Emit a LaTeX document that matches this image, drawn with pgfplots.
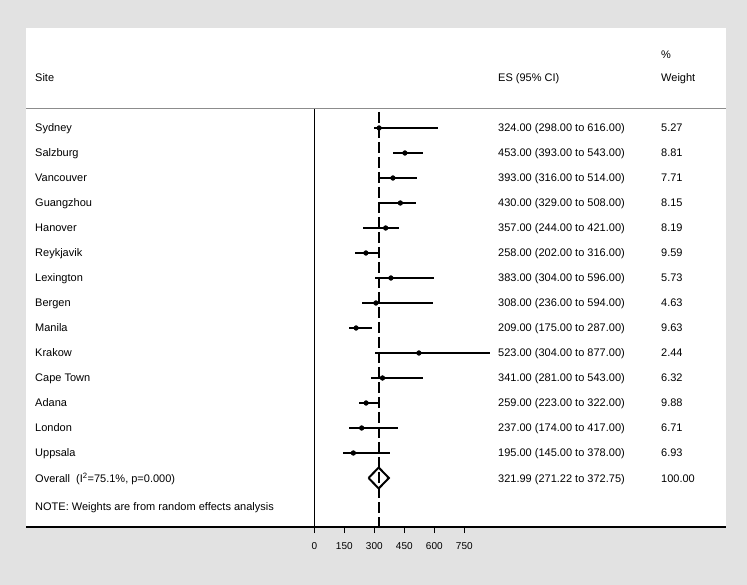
\documentclass[border=0pt]{standalone}
\usepackage{fontspec}
\setmainfont{Liberation Sans}
\usepackage{pgfplots}
\pgfplotsset{compat=1.18}
\usepackage{pgfplotstable}
\definecolor{bg}{RGB}{226,226,226}
\definecolor{sep}{RGB}{140,140,140}

% row, effect size, lower CI, upper CI
\pgfplotstableread{
row es lo hi
1 324 298 616
2 453 393 543
3 393 316 514
4 430 329 508
5 357 244 421
6 258 202 316
7 383 304 596
8 308 236 594
9 209 175 287
10 523 304 877
11 341 281 543
12 259 223 322
13 237 174 417
14 195 145 378
}\studies

\tikzset{tx/.style={anchor=base west, inner sep=0pt, yshift=-4bp, font=\fontsize{11bp}{13bp}\selectfont}}

\begin{document}
\begin{tikzpicture}
\fill[bg] (-26bp,-58bp) rectangle (721bp,527bp);
\begin{axis}[
  at={(0,0)}, anchor=south west,
  scale only axis, width=700bp, height=499bp,
  xmin=-1441.5, xmax=2058.5, ymin=-16.96, ymax=3,
  axis background/.style={fill=white},
  axis x line*=bottom, axis y line=none,
  axis line style={-, line width=1.2bp, black},
  xtick={0,150,300,450,600,750}, tick align=outside, major tick length=6bp,
  xtick style={black, line width=1bp},
  xticklabel style={font=\fontsize{10bp}{12bp}\selectfont, yshift=-6bp},
  /pgf/number format/assume math mode=true,
  clip=false,
]
% header separator
\addplot[sep, line width=1bp] coordinates {(-1441.5,-0.24) (2058.5,-0.24)};
% zero line
\addplot[black, line width=1.2bp] coordinates {(0,-0.24) (0,-16.96)};
% overall dashed line
\addplot[black, line width=2.3bp, dash pattern=on 11bp off 4bp] coordinates {(321.99,-0.36) (321.99,-16.96)};
% study CIs and points
\addplot[black, only marks, mark=*, mark size=2.4bp,
  error bars/.cd, x dir=both, x explicit, error mark=none,
  error bar style={line width=2bp, black}]
  table[x=es, y expr=-\thisrow{row},
        x error plus expr=\thisrow{hi}-\thisrow{es},
        x error minus expr=\thisrow{es}-\thisrow{lo}] {\studies};
% overall diamond
\addplot[black, line width=2bp, line join=miter, mark=none] coordinates {
  (271.22,-15) (321.99,-14.58) (372.75,-15) (321.99,-15.42) (271.22,-15)};

% header text
\node[tx] at (axis cs:-1396.5,1) {Site};
\node[tx] at (axis cs:918.5,1) {ES (95\% CI)};
\node[tx] at (axis cs:1733.5,1) {Weight};
\node[tx] at (axis cs:1733.5,1.92) {\%};

% site names
\node[tx] at (axis cs:-1396.5,-1) {Sydney};
\node[tx] at (axis cs:-1396.5,-2) {Salzburg};
\node[tx] at (axis cs:-1396.5,-3) {Vancouver};
\node[tx] at (axis cs:-1396.5,-4) {Guangzhou};
\node[tx] at (axis cs:-1396.5,-5) {Hanover};
\node[tx] at (axis cs:-1396.5,-6) {Reykjavik};
\node[tx] at (axis cs:-1396.5,-7) {Lexington};
\node[tx] at (axis cs:-1396.5,-8) {Bergen};
\node[tx] at (axis cs:-1396.5,-9) {Manila};
\node[tx] at (axis cs:-1396.5,-10) {Krakow};
\node[tx] at (axis cs:-1396.5,-11) {Cape Town};
\node[tx] at (axis cs:-1396.5,-12) {Adana};
\node[tx] at (axis cs:-1396.5,-13) {London};
\node[tx] at (axis cs:-1396.5,-14) {Uppsala};
\node[tx] at (axis cs:-1396.5,-15) {Overall\ \ (I\textsuperscript{2}=75.1\%, p=0.000)};
\node[tx] at (axis cs:-1396.5,-16.12) {NOTE: Weights are from random effects analysis};

% ES (95% CI)
\node[tx] at (axis cs:918.5,-1) {324.00 (298.00 to 616.00)};
\node[tx] at (axis cs:918.5,-2) {453.00 (393.00 to 543.00)};
\node[tx] at (axis cs:918.5,-3) {393.00 (316.00 to 514.00)};
\node[tx] at (axis cs:918.5,-4) {430.00 (329.00 to 508.00)};
\node[tx] at (axis cs:918.5,-5) {357.00 (244.00 to 421.00)};
\node[tx] at (axis cs:918.5,-6) {258.00 (202.00 to 316.00)};
\node[tx] at (axis cs:918.5,-7) {383.00 (304.00 to 596.00)};
\node[tx] at (axis cs:918.5,-8) {308.00 (236.00 to 594.00)};
\node[tx] at (axis cs:918.5,-9) {209.00 (175.00 to 287.00)};
\node[tx] at (axis cs:918.5,-10) {523.00 (304.00 to 877.00)};
\node[tx] at (axis cs:918.5,-11) {341.00 (281.00 to 543.00)};
\node[tx] at (axis cs:918.5,-12) {259.00 (223.00 to 322.00)};
\node[tx] at (axis cs:918.5,-13) {237.00 (174.00 to 417.00)};
\node[tx] at (axis cs:918.5,-14) {195.00 (145.00 to 378.00)};
\node[tx] at (axis cs:918.5,-15) {321.99 (271.22 to 372.75)};

% weights
\node[tx] at (axis cs:1733.5,-1) {5.27};
\node[tx] at (axis cs:1733.5,-2) {8.81};
\node[tx] at (axis cs:1733.5,-3) {7.71};
\node[tx] at (axis cs:1733.5,-4) {8.15};
\node[tx] at (axis cs:1733.5,-5) {8.19};
\node[tx] at (axis cs:1733.5,-6) {9.59};
\node[tx] at (axis cs:1733.5,-7) {5.73};
\node[tx] at (axis cs:1733.5,-8) {4.63};
\node[tx] at (axis cs:1733.5,-9) {9.63};
\node[tx] at (axis cs:1733.5,-10) {2.44};
\node[tx] at (axis cs:1733.5,-11) {6.32};
\node[tx] at (axis cs:1733.5,-12) {9.88};
\node[tx] at (axis cs:1733.5,-13) {6.71};
\node[tx] at (axis cs:1733.5,-14) {6.93};
\node[tx] at (axis cs:1733.5,-15) {100.00};
\end{axis}
\end{tikzpicture}
\end{document}
